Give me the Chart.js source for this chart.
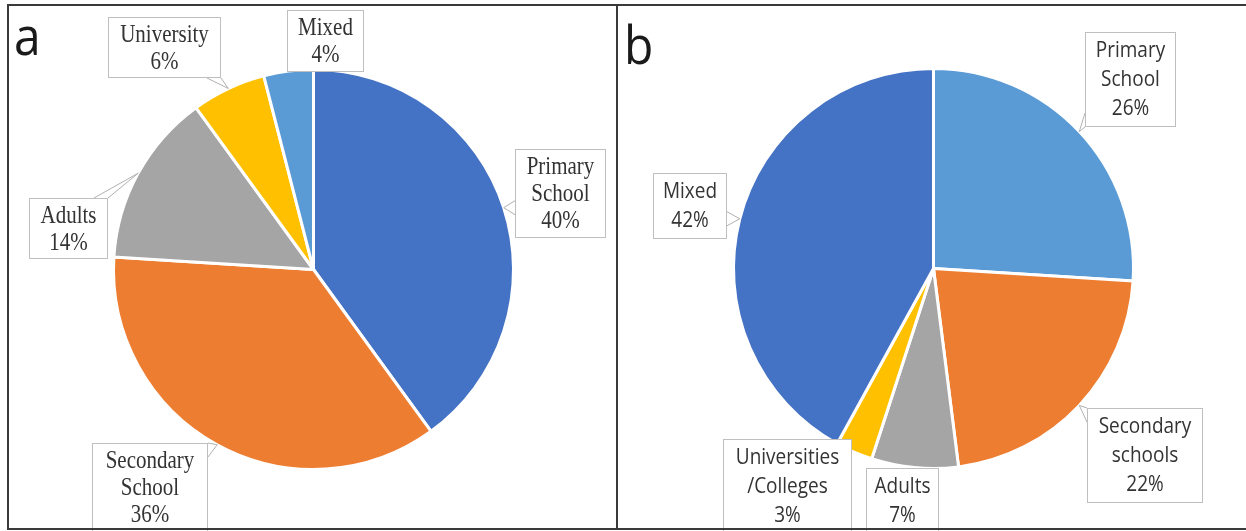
<!DOCTYPE html>
<html><head><meta charset="utf-8">
<script src="https://cdn.jsdelivr.net/npm/chart.js@4.4.1/dist/chart.umd.min.js"></script>
<style>
html,body{margin:0;padding:0;background:#fff;}
#wrap{position:relative;width:1246px;height:531px;overflow:hidden;background:#fff;}
canvas{position:absolute;left:0;top:0;}
.ln{position:absolute;background:#3a3a3a;z-index:5;}
</style></head><body>
<div id="wrap">
<canvas id="ca" width="1246" height="531" style="width:1246px;height:531px"></canvas>
<canvas id="cb" width="1246" height="531" style="width:1246px;height:531px"></canvas>
<div class="ln" style="left:7px;top:4px;width:1239px;height:2px"></div>
<div class="ln" style="left:7px;top:528px;width:1239px;height:2px"></div>
<div class="ln" style="left:7px;top:4px;width:2px;height:526px"></div>
<div class="ln" style="left:616px;top:4px;width:2px;height:526px"></div>
</div>
<script>
// ---- data ----
const categoriesA = ['Primary School', 'Secondary School', 'Adults', 'University', 'Mixed'];
const valuesA = [40, 36, 14, 6, 4];
const labelLinesA = [['Primary', 'School'], ['Secondary', 'School'], ['Adults'], ['University'], ['Mixed']];
const colorsA = ['#4472C4', '#ED7D31', '#A5A5A5', '#FFC000', '#5B9BD5'];

const categoriesB = ['Primary School', 'Secondary schools', 'Adults', 'Universities /Colleges', 'Mixed'];
const valuesB = [26, 22, 7, 3, 42];
const labelLinesB = [['Primary', 'School'], ['Secondary', 'schools'], ['Adults'], ['Universities', '/Colleges'], ['Mixed']];
const colorsB = ['#5B9BD5', '#ED7D31', '#A5A5A5', '#FFC000', '#4472C4'];

// ---- callout plugin ----
const calloutPlugin = {
  id: 'callouts',
  afterDatasetsDraw(chart, args, opts) {
    const ctx = chart.ctx;
    const meta = chart.getDatasetMeta(0);
    const ds = chart.data.datasets[0];
    const total = ds.data.reduce((a, b) => a + b, 0);
    meta.data.forEach((arc, i) => {
      const b = opts.boxes[i];
      const p = arc.getProps(['x', 'y', 'startAngle', 'endAngle', 'outerRadius'], true);
      const mid = (p.startAngle + p.endAngle) / 2;
      const tx = p.x + Math.cos(mid) * p.outerRadius;
      const ty = p.y + Math.sin(mid) * p.outerRadius;
      const [x0, y0, x1, y1] = b.r;
      ctx.save();
      if (b.side) {
        const w = 14;
        let b1, b2;
        if (b.side === 'left' || b.side === 'right') {
          const ex = b.side === 'left' ? x0 : x1;
          let c = Math.min(Math.max(ty, y0 + w / 2), y1 - w / 2);
          b1 = [ex, c - w / 2]; b2 = [ex, c + w / 2];
        } else {
          const ey = b.side === 'top' ? y0 : y1;
          let c = Math.min(Math.max(tx, x0 + w / 2), x1 - w / 2);
          b1 = [c - w / 2, ey]; b2 = [c + w / 2, ey];
        }
        ctx.beginPath();
        ctx.moveTo(b1[0], b1[1]); ctx.lineTo(tx, ty); ctx.lineTo(b2[0], b2[1]);
        ctx.closePath();
        ctx.fillStyle = '#ffffff'; ctx.fill();
        ctx.beginPath();
        ctx.moveTo(b1[0], b1[1]); ctx.lineTo(tx, ty); ctx.lineTo(b2[0], b2[1]);
        ctx.strokeStyle = '#b0b0b0'; ctx.lineWidth = 1; ctx.stroke();
      }
      ctx.fillStyle = '#ffffff';
      ctx.fillRect(x0, y0, x1 - x0, y1 - y0);
      ctx.strokeStyle = '#bfbfbf'; ctx.lineWidth = 1;
      ctx.strokeRect(x0 + 0.5, y0 + 0.5, x1 - x0 - 1, y1 - y0 - 1);
      const lines = opts.lines[i].concat([Math.round(ds.data[i] / total * 100) + '%']);
      ctx.fillStyle = '#333333';
      ctx.font = opts.font;
      ctx.textAlign = 'center';
      ctx.textBaseline = 'middle';
      const cx = (x0 + x1) / 2;
      lines.forEach((t, k) => {
        ctx.save();
        ctx.translate(cx, y0 + opts.padTop + k * opts.lineHeight);
        ctx.scale(1, opts.sy);
        ctx.fillText(t, 0, 0);
        ctx.restore();
      });
      ctx.restore();
    });
    // panel letter
    const L = opts.letter;
    ctx.save();
    ctx.fillStyle = '#1a1a1a';
    ctx.font = L.font;
    ctx.textAlign = 'left';
    ctx.textBaseline = 'alphabetic';
    ctx.translate(L.x, L.y);
    ctx.scale(1, 1.12);
    ctx.fillText(L.text, 0, 0);
    ctx.restore();
  }
};

function makePie(id, cats, vals, cols, pad, boxes, lines, font, lh, padTop, sy, letter) {
  return new Chart(document.getElementById(id), {
    type: 'pie',
    data: { labels: cats, datasets: [{ data: vals, backgroundColor: cols, borderColor: '#ffffff', borderWidth: 3, hoverOffset: 0 }] },
    options: {
      responsive: false, animation: false, events: [],
      layout: { padding: pad },
      plugins: {
        legend: { display: false }, tooltip: { enabled: false },
        callouts: { boxes, lines, font, lineHeight: lh, padTop, sy, letter }
      }
    },
    plugins: [calloutPlugin]
  });
}

makePie('ca', categoriesA, valuesA, colorsA,
  { left: 112, right: 731, top: 68, bottom: 60 },
  [
    { r: [515, 149, 606, 238], side: 'left' },
    { r: [92, 443, 208, 545], side: 'right' },
    { r: [29, 198, 108, 259], side: 'top' },
    { r: [108, 17, 221, 78], side: 'bottom' },
    { r: [287, 10, 364, 72], side: null }
  ],
  labelLinesA, '21px "Liberation Serif"', 27, 19, 1.15,
  { text: 'a', x: 14, y: 55, font: '48px "Open Sans"' });

makePie('cb', categoriesB, valuesB, colorsB,
  { left: 732, right: 111, top: 67, bottom: 61 },
  [
    { r: [1085, 32, 1176, 127], side: 'left' },
    { r: [1087, 408, 1203, 503], side: 'left' },
    { r: [866, 468, 939, 545], side: null },
    { r: [723, 439, 852, 545], side: null },
    { r: [653, 173, 727, 239], side: 'right' }
  ],
  labelLinesB, '19px "Open Sans"', 29, 19, 1.12,
  { text: 'b', x: 624, y: 64, font: '48px "Open Sans"' });
</script>
</body></html>
